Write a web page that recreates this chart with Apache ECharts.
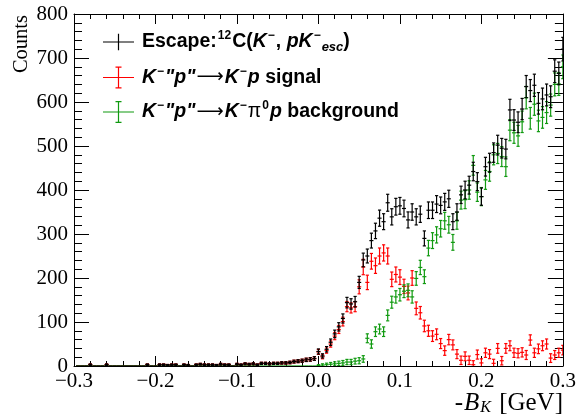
<!DOCTYPE html>
<html><head><meta charset="utf-8">
<script src="https://cdn.jsdelivr.net/npm/echarts@6/dist/echarts.min.js"></script>
<style>html,body{margin:0;padding:0;background:#fff}#c{width:579px;height:417px}</style>
</head><body><div id="c"></div>
<script>
// bin centres of -B_K [GeV]
const xBins = [
 -0.295,-0.29,-0.285,-0.28,-0.275,-0.27,-0.265,-0.26,-0.255,-0.25,
 -0.245,-0.24,-0.235,-0.23,-0.225,-0.22,-0.215,-0.21,-0.205,-0.2,
 -0.195,-0.19,-0.185,-0.18,-0.175,-0.17,-0.165,-0.16,-0.155,-0.15,
 -0.145,-0.14,-0.135,-0.13,-0.125,-0.12,-0.115,-0.11,-0.105,-0.1,
 -0.095,-0.09,-0.085,-0.08,-0.075,-0.07,-0.065,-0.06,-0.055,-0.05,
 -0.045,-0.04,-0.035,-0.03,-0.025,-0.02,-0.015,-0.01,-0.005,0,
 0.005,0.01,0.015,0.02,0.025,0.03,0.035,0.04,0.045,0.05,
 0.055,0.06,0.065,0.07,0.075,0.08,0.085,0.09,0.095,0.1,
 0.105,0.11,0.115,0.12,0.125,0.13,0.135,0.14,0.145,0.15,
 0.155,0.16,0.165,0.17,0.175,0.18,0.185,0.19,0.195,0.2,
 0.205,0.21,0.215,0.22,0.225,0.23,0.235,0.24,0.245,0.25,
 0.255,0.26,0.265,0.27,0.275,0.28,0.285,0.29,0.295,0.3
];
// Escape: 12C(K-, pK-esc)  (counts; Poisson errors)
const escapeCounts = [
 0,0,0,3,0,0,0,3,0,0,
 0,0,0,0,0,0,0,3,0,0,
 3,3,2,3,3,0,3,2,0,3,
 4,3,3,3,2,4,3,3,0,4,
 3,5,4,5,3,6,6,5,6,6,
 7,7,8,10,11,12,14,15,17,33,
 23,38,54,73,89,108,144,141,146,190,
 241,250,285,307,336,328,371,339,362,364,
 358,332,350,339,345,290,354,354,368,365,
 373,380,328,350,389,400,411,442,419,385,
 453,462,485,502,495,493,582,559,554,584,
 635,626,638,597,607,616,612,670,665,720
];
// K- "p" -> K- p signal
const signalCounts = [
 0,0,0,3,0,0,0,3,0,0,
 0,0,0,0,0,0,0,3,0,0,
 3,3,2,3,3,0,3,2,0,3,
 4,3,3,3,2,4,3,3,0,4,
 3,5,4,5,3,6,6,5,6,6,
 7,7,8,10,11,12,14,15,17,32,
 21,35,50,68,83,101,135,132,135,180,
 225,190,238,228,250,257,250,197,208,202,
 181,166,200,131,121,91,80,68,72,51,
 35,60,48,27,13,22,13,3,26,7,
 30,27,6,40,12,40,46,30,29,31,
 25,59,30,39,46,50,18,25,30,36
];
const signalErrors = [
 0,0,0,1.7,0,0,0,1.7,0,0,
 0,0,0,0,0,0,0,1.7,0,0,
 1.7,1.7,1.4,1.7,1.7,0,1.7,1.4,0,1.7,
 2,1.7,1.7,1.7,1.4,2,1.7,1.7,0,2,
 1.7,2.2,2,2.2,1.7,2.4,2.4,2.2,2.4,2.4,
 2.6,2.6,2.8,3.2,3.3,3.5,3.7,3.9,4.1,5.7,
 4.6,5.9,7.1,8.2,9.1,10,11.6,11.5,11.6,16,
 17.5,16.4,17.8,17.5,18.2,18.4,18.2,16.6,17,16.8,
 16.2,15.7,16.7,14.5,14.2,13.1,12.6,12.2,12.3,11.4,
 10.7,11.8,11.3,10.3,9.6,10.1,9.6,9.1,10.3,9.3,
 10.5,10.3,9.3,11,9.6,11,11.2,10.5,10.4,10.5,
 10.2,11.8,10.5,10.9,11.2,11.4,9.9,10.2,10.5,10.8
];
// K- "p" -> K- pi0 p background
const backgroundCounts = [
 0,0,0,0,0,0,0,0,0,0,
 0,0,0,0,0,0,0,0,0,0,
 0,0,0,0,0,0,0,0,0,0,
 0,0,0,0,0,0,0,0,0,0,
 0,0,0,0,0,0,0,0,0,0,
 0,0,0,0,0,0,0,0,0,1,
 2,3,4,5,6,7,9,9,11,12,
 16,63,50,78,84,78,115,145,157,162,
 170,172,157,199,224,203,268,285,298,312,
 330,321,281,330,377,378,400,456,395,385,
 423,442,480,483,476,453,536,530,523,555,
 610,563,595,557,565,576,593,640,641,680
];
const backgroundErrors = [
 0,0,0,0,0,0,0,0,0,0,
 0,0,0,0,0,0,0,0,0,0,
 0,0,0,0,0,0,0,0,0,0,
 0,0,0,0,0,0,0,0,0,0,
 0,0,0,0,0,0,0,0,0,0,
 0,0,0,0,0,0,0,0,0,2,
 3,3.5,4,4.5,5,5.5,6,6,6.5,7,
 7.5,10.1,9.5,10.9,11.1,10.9,12.4,13.6,14,14.2,
 14.5,14.6,14,15.5,16.2,15.6,17.5,18,18.4,18.8,
 19.2,19,17.9,19.2,20.4,20.4,21,22.3,20.9,20.6,
 21.5,22,22.8,22.9,22.7,22.2,24,23.9,23.7,24.4,
 25.5,24.6,25.2,24.4,24.6,24.8,25.2,26.1,26.1,26.8
];
const escapeErrors = escapeCounts.map(v => Math.sqrt(v));
const seriesNames = ['Escape', 'Signal', 'Background'];
const HALF_BIN = 0.0025;

const chart = echarts.init(document.getElementById('c'), null, {renderer: 'canvas'});

function errSeries(name, values, errors, color, z) {
  return {
    type: 'custom', name: name, z: z, clip: true,
    itemStyle: {color: color},
    data: xBins.map((x, i) => [x, values[i], errors[i]]),
    encode: {x: 0, y: 1},
    renderItem: function (params, api) {
      const x = api.value(0), y = api.value(1), e = api.value(2);
      const c = api.coord([x, y]);
      const l = api.coord([x - HALF_BIN, y]);
      const r = api.coord([x + HALF_BIN, y]);
      const t = api.coord([x, y + e]);
      const b = api.coord([x, Math.max(0, y - e)]);
      const st = {stroke: color, lineWidth: 1.2, fill: null};
      const cap = 1.6;
      const ch = [{type: 'line', shape: {x1: l[0], y1: c[1], x2: r[0], y2: c[1]}, style: st}];
      if (e > 0) {
        ch.push({type: 'line', shape: {x1: c[0], y1: t[1], x2: c[0], y2: b[1]}, style: st});
        ch.push({type: 'line', shape: {x1: c[0] - cap, y1: t[1], x2: c[0] + cap, y2: t[1]}, style: st});
        if (y - e > 0) ch.push({type: 'line', shape: {x1: c[0] - cap, y1: b[1], x2: c[0] + cap, y2: b[1]}, style: st});
      }
      return {type: 'group', children: ch};
    }
  };
}

const serifFont = 'Liberation Serif';
const sansFont = 'Liberation Sans';
const fmtX = v => (v < -1e-9 ? '\u2212' : '') + Math.abs(v).toFixed(1);

const xCommon = {
  type: 'value', min: -0.3, max: 0.3, interval: 0.1,
  axisLine: {show: true, onZero: false, lineStyle: {color: '#000', width: 1}},
  axisTick: {show: true, inside: true, length: 10, lineStyle: {color: '#000', width: 1}},
  minorTick: {show: true, splitNumber: 5, length: 5, lineStyle: {color: '#000', width: 1}},
  splitLine: {show: false}
};
const yCommon = {
  type: 'value', min: 0, max: 800, interval: 100,
  axisLine: {show: true, onZero: false, lineStyle: {color: '#000', width: 1}},
  axisTick: {show: true, inside: true, length: 15, lineStyle: {color: '#000', width: 1}},
  minorTick: {show: true, splitNumber: 5, length: 8, lineStyle: {color: '#000', width: 1}},
  splitLine: {show: false}
};

const FS = 19.5;
const richBase = {fontFamily: sansFont, fontWeight: 'bold', fontSize: FS, lineHeight: 24, color: '#000'};
const legendRich = {
  b: Object.assign({}, richBase),
  i: Object.assign({}, richBase, {fontStyle: 'italic'}),
  n: Object.assign({}, richBase, {fontWeight: 'normal'}),
  arr: {fontFamily: 'DejaVu Sans', fontWeight: 'normal', fontSize: 19, lineHeight: 24, color: '#000', padding: [0, 1, 0, 1]},
  sup: {fontFamily: sansFont, fontWeight: 'bold', fontSize: 12, lineHeight: 15, verticalAlign: 'top', color: '#000', padding: [0, 1, 0, 1]},
  sub: {fontFamily: sansFont, fontWeight: 'bold', fontStyle: 'italic', fontSize: 13, lineHeight: 13, verticalAlign: 'bottom', color: '#000'}
};
const legendLabels = {
  Escape: '{b|Escape:}{sup|12}{b|C(}{i|K}{sup|\u2212}{b|, }{i|pK}{sup|\u2212}{sub|esc}{b|)}',
  Signal: '{i|K}{sup|\u2212}{i|"p"}{arr|\u27f6}{i|K}{sup|\u2212}{i|p}{b| signal}',
  Background: '{i|K}{sup|\u2212}{i|"p"}{arr|\u27f6}{i|K}{sup|\u2212}{n|\u03c0}{sup|0}{i|p}{b| background}'
};
const iconCross = 'path://M0,0h0.01v0.01h-0.01z M0,21.99h0.01v0.01h-0.01z M0,10.4h31v1.2h-31z M14.9,2.7h1.2v16.6h-1.2z';
const iconErr = 'path://M0,10.4h31v1.2h-31z M14.9,0h1.2v22h-1.2z M12.5,0h6v1.2h-6z M12.5,20.8h6v1.2h-6z';

chart.setOption({
  animation: false,
  backgroundColor: '#fff',
  grid: {left: 74, right: 15, top: 14, bottom: 51, containLabel: false},
  xAxis: [
    Object.assign({}, xCommon, {position: 'bottom',
      axisLabel: {show: true, formatter: fmtX, fontFamily: serifFont, fontSize: 21, color: '#000', margin: 5,
        showMinLabel: true, showMaxLabel: true}}),
    Object.assign({}, xCommon, {position: 'top', axisLabel: {show: false}})
  ],
  yAxis: [
    Object.assign({}, yCommon, {position: 'left',
      axisLabel: {show: true, fontFamily: serifFont, fontSize: 21, color: '#000', margin: 6}}),
    Object.assign({}, yCommon, {position: 'right', axisLabel: {show: false}})
  ],
  legend: {
    show: true, orient: 'vertical', left: 103, top: 30, padding: 0,
    itemWidth: 31, itemHeight: 22, itemGap: 11.5, selectedMode: false,
    symbolKeepAspect: false,
    data: [
      {name: 'Escape', icon: iconCross},
      {name: 'Signal', icon: iconErr},
      {name: 'Background', icon: iconErr}
    ],
    formatter: name => legendLabels[name],
    textStyle: {rich: legendRich, fontFamily: sansFont, fontSize: FS, fontWeight: 'bold', color: '#000', padding: [0, 0, 0, 3]}
  },
  graphic: [
    {type: 'text', x: 22, y: 15, rotation: Math.PI / 2,
      style: {text: 'Counts', font: '20.5px "Liberation Serif"', fill: '#000', align: 'right', verticalAlign: 'middle'}},
    {type: 'text', x: 563, y: 403,
      style: {text: '{n|-}{it|B}{sub|K}{n| [GeV]}', align: 'right', verticalAlign: 'middle',
        rich: {
          n: {fontFamily: serifFont, fontSize: 25, color: '#000', lineHeight: 26},
          it: {fontFamily: serifFont, fontStyle: 'italic', fontSize: 25, color: '#000', lineHeight: 26, padding: [0, 1, 0, 1]},
          sub: {fontFamily: serifFont, fontStyle: 'italic', fontSize: 16, color: '#000', lineHeight: 13, verticalAlign: 'bottom', padding: [0, 2, 0, 0]}
        }}}
  ],
  series: [
    errSeries(seriesNames[1], signalCounts, signalErrors, '#ff0000', 2),
    errSeries(seriesNames[2], backgroundCounts, backgroundErrors, '#109a10', 3),
    errSeries(seriesNames[0], escapeCounts, escapeErrors, '#000000', 4)
  ]
});
</script>
</body></html>
